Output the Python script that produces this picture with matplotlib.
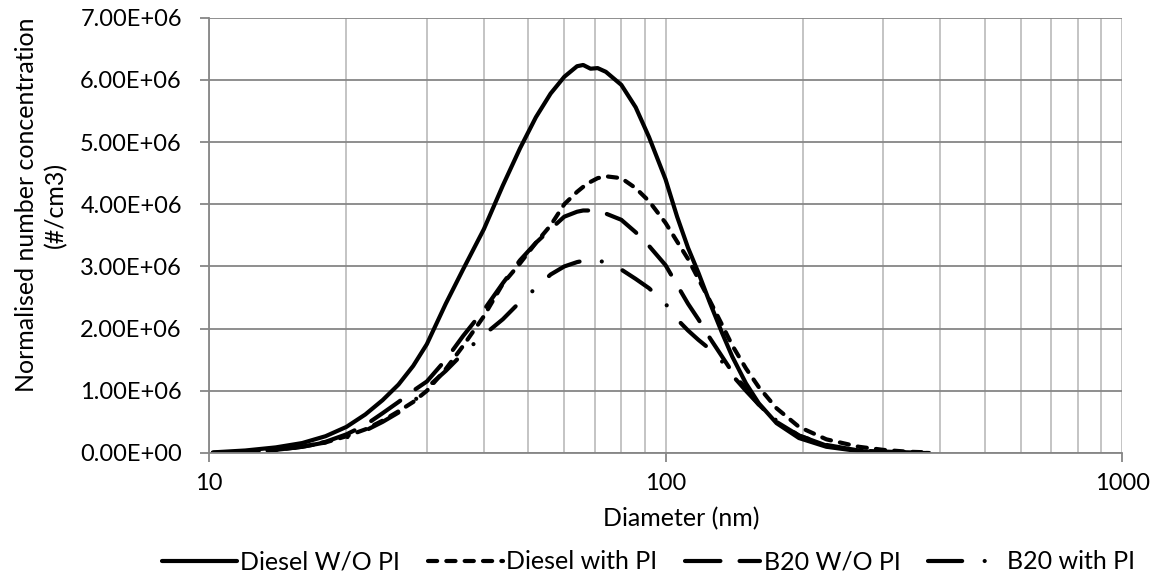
import matplotlib
matplotlib.use("Agg")
import matplotlib.pyplot as plt
from matplotlib.ticker import FuncFormatter, LogLocator, NullFormatter

plt.rcParams['font.family'] = ['Lato', 'DejaVu Sans']

# diameters (nm)
diam = [10.2, 12, 14, 16, 18, 20, 22, 24, 26, 28, 30, 33, 36, 40, 44, 48, 52, 56,
        60, 64, 66, 68.5, 71, 74, 80, 86, 92, 100, 106, 112, 118, 125, 133, 140,
        150, 160, 175, 196, 225, 265, 300, 340, 378]

# normalised number concentration, units of 1e6 #/cm3
diesel_wo = [0.01, 0.04, 0.09, 0.16, 0.27, 0.42, 0.62, 0.85, 1.1, 1.4, 1.75, 2.4,
             2.95, 3.6, 4.3, 4.9, 5.4, 5.78, 6.05, 6.22, 6.24, 6.18, 6.19, 6.13,
             5.92, 5.56, 5.08, 4.4, 3.8, 3.3, 2.9, 2.42, 1.93, 1.55, 1.12, 0.8,
             0.48, 0.24, 0.1, 0.03, 0.01, 0.0, 0.0]
diesel_pi = [0.0, 0.02, 0.05, 0.1, 0.17, 0.27, 0.38, 0.52, 0.67, 0.82, 1.0, 1.35,
             1.72, 2.2, 2.72, 3.05, 3.38, 3.66, 4.0, 4.2, 4.28, 4.36, 4.42, 4.45,
             4.42, 4.26, 4.05, 3.7, 3.4, 3.12, 2.8, 2.45, 2.06, 1.73, 1.36, 1.06,
             0.72, 0.42, 0.22, 0.1, 0.05, 0.02, 0.01]
b20_wo = [0.0, 0.02, 0.05, 0.1, 0.18, 0.3, 0.45, 0.64, 0.82, 1.0, 1.15, 1.5, 1.88,
          2.3, 2.73, 3.1, 3.38, 3.6, 3.8, 3.88, 3.9, 3.9, 3.89, 3.85, 3.75, 3.55,
          3.33, 3.02, 2.7, 2.4, 2.15, 1.85, 1.55, 1.3, 1.03, 0.78, 0.5, 0.28, 0.13,
          0.04, 0.02, 0.01, 0.0]
b20_pi = [0.0, 0.02, 0.05, 0.1, 0.17, 0.25, 0.36, 0.5, 0.65, 0.82, 1.05, 1.32, 1.6,
          1.9, 2.15, 2.43, 2.65, 2.87, 3.0, 3.07, 3.09, 3.1, 3.1, 3.06, 2.95, 2.8,
          2.65, 2.4, 2.15, 1.97, 1.82, 1.67, 1.47, 1.25, 1.0, 0.78, 0.52, 0.28,
          0.12, 0.04, 0.02, 0.01, 0.0]

names = ["Diesel W/O PI", "Diesel with PI", "B20 W/O PI", "B20 with PI"]
series = [diesel_wo, diesel_pi, b20_wo, b20_pi]
dashes = [None, (2.2, 2.2), (8.5, 4.6), (8.2, 5.4, 0.01, 5.4)]

fig = plt.figure(figsize=(11.58, 5.83), dpi=100)
ax = fig.add_axes([0.1805, 0.223, 0.7885, 0.7466])

for name, vals, d in zip(names, series, dashes):
    y = [v * 1e6 for v in vals]
    if d is None:
        ax.plot(diam, y, color='black', lw=3.0, label=name, solid_capstyle='round',
                solid_joinstyle='round')
    else:
        ax.plot(diam, y, color='black', lw=3.0, label=name, dashes=d,
                dash_capstyle='round', dash_joinstyle='round')

ax.set_xscale('log')
ax.set_xlim(10, 1000)
ax.set_ylim(0, 7e6)
ax.set_yticks([i * 1e6 for i in range(8)])
ax.yaxis.set_major_formatter(FuncFormatter(lambda v, p: f"{v:.2E}"))
ax.xaxis.set_major_formatter(FuncFormatter(lambda v, p: f"{int(round(v))}"))
ax.xaxis.set_minor_locator(LogLocator(base=10, subs=range(2, 10)))
ax.xaxis.set_minor_formatter(NullFormatter())

ax.grid(True, axis='y', which='major', color='#868686', lw=1.3)
ax.grid(True, axis='x', which='both', color='#bfbfbf', lw=1.3)
ax.set_axisbelow(True)
for s in ['top', 'right']:
    ax.spines[s].set_visible(False)
for s in ['left', 'bottom']:
    ax.spines[s].set_color('#868686')
    ax.spines[s].set_linewidth(1.3)
ax.tick_params(axis='both', which='major', labelsize=17, color='#868686',
               length=6.5, width=1.3)
ax.tick_params(axis='y', pad=13)
ax.tick_params(axis='x', pad=8)
ax.tick_params(axis='x', which='minor', length=0)

ax.set_xlabel("Diameter (nm)", fontsize=18)
ax.xaxis.set_label_coords(0.517, -0.123)
ax.set_ylabel("Normalised number concentration\n(#/cm3)", fontsize=18,
              linespacing=1.3)
ax.yaxis.set_label_coords(-0.155, 0.57)

ax.legend(loc='center', bbox_to_anchor=(0.481, -0.25), ncol=4, frameon=False,
          fontsize=18, handlelength=3.0, columnspacing=1.1, handletextpad=0.15,
          borderpad=0)

fig.savefig("out.png", dpi=100)
